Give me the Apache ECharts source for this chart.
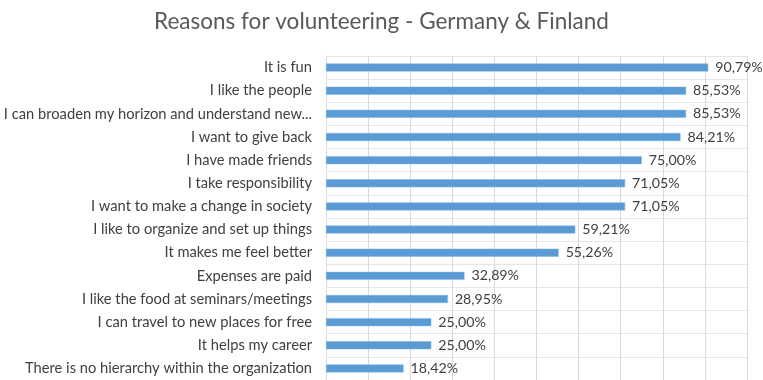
<!DOCTYPE html>
<html><head><meta charset="utf-8">
<script src="https://cdn.jsdelivr.net/npm/echarts@6/dist/echarts.min.js"></script>
<style>html,body{margin:0;padding:0;background:#fff}#c{width:763px;height:380px}</style>
</head><body><div id="c"></div>
<script>
const categories = [
  "It is fun",
  "I like the people",
  "I can broaden my horizon and understand new...",
  "I want to give back",
  "I have made friends",
  "I take responsibility",
  "I want to make a change in society",
  "I like to organize and set up things",
  "It makes me feel better",
  "Expenses are paid",
  "I like the food at seminars/meetings",
  "I can travel to new places for free",
  "It helps my career",
  "There is no hierarchy within the organization"
];
const values = [90.79, 85.53, 85.53, 84.21, 75.00, 71.05, 71.05, 59.21, 55.26, 32.89, 28.95, 25.00, 25.00, 18.42];
const titleText = "Reasons for volunteering - Germany & Finland";

const chart = echarts.init(document.getElementById('c'));
const font = 'Lato, "Open Sans", sans-serif';
chart.setOption({
  animation: false,
  title: {
    text: titleText, left: 'center', top: 5,
    textStyle: { fontFamily: font, fontSize: 22.5, fontWeight: 'normal', color: '#595959' }
  },
  grid: { left: 326, right: 16, top: 56, height: 324, containLabel: false },
  xAxis: {
    type: 'value', min: 0, max: 100, interval: 10,
    axisLabel: { show: false }, axisLine: { show: false }, axisTick: { show: false },
    splitLine: { show: true, lineStyle: { color: '#d9d9d9', width: 1 } }
  },
  yAxis: {
    type: 'category', data: categories, inverse: true,
    axisLine: { show: true, lineStyle: { color: '#d9d9d9' } },
    axisTick: { show: false },
    splitLine: { show: true, lineStyle: { color: '#e6e6e6', width: 1 } },
    axisLabel: { fontFamily: font, fontSize: 14.7, color: '#404040', margin: 14 }
  },
  series: [{
    type: 'bar', data: values, barWidth: 8,
    itemStyle: { color: '#5B9BD5', borderColor: '#7FB2E0', borderWidth: 0.5 },
    label: {
      show: true, position: 'right', distance: 7,
      fontFamily: font, fontSize: 14.2, color: '#404040',
      formatter: p => p.value.toFixed(2).replace('.', ',') + '%'
    }
  }]
});
</script></body></html>
